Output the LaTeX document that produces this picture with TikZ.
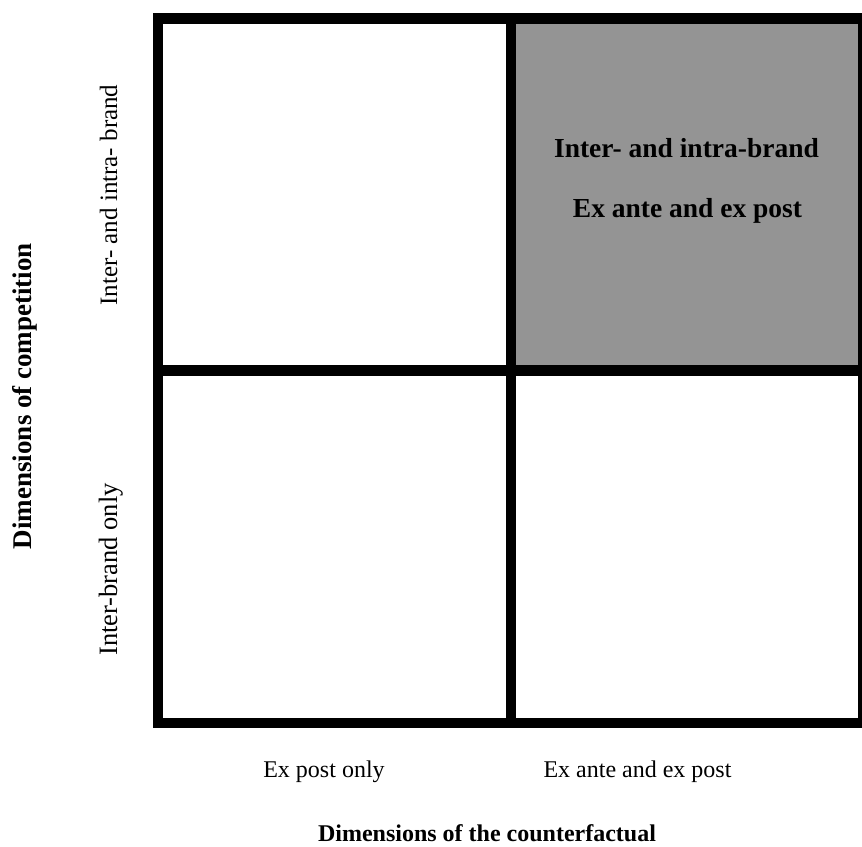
\documentclass[tikz,border=0pt]{standalone}
\usepackage{fontspec}
\setmainfont{Liberation Serif}
\definecolor{cellgray}{RGB}{148,148,148}

\begin{document}
\begin{tikzpicture}[x=1pt,y=1pt,yscale=-1,
  gridline/.style={line width=10.7pt},
  lbl/.style={anchor=base,inner sep=0pt,font=\fontsize{24}{28}\selectfont},
  boldlbl/.style={lbl,font=\fontsize{24}{28}\selectfont\bfseries},
  celllbl/.style={lbl,font=\fontsize{27.5}{32}\selectfont\bfseries}]
\useasboundingbox (0,0) rectangle (862,846);

% shaded cell, top right
\fill [cellgray] (511,18.5) rectangle (863.5,370.5);

% the grid
\draw [gridline] (158,18.5) rectangle (863.5,723);
\draw [gridline] (511,18.5) -- (511,723);
\draw [gridline] (158,370.5) -- (863.5,370.5);

% text in the shaded cell
\node [celllbl] (cellcomp) at (686.5,157.5) {Inter- and intra-brand};
\node [celllbl] (cellcf) at (687.5,217) {Ex ante and ex post};

% vertical axis
\node [lbl,rotate=90,font=\fontsize{25}{30}\selectfont] (comptop) at (117,195) {Inter- and intra- brand};
\node [lbl,rotate=90,font=\fontsize{26.5}{30}\selectfont] (compbot) at (117,569.5) {Inter-brand only};
\node [boldlbl,rotate=90,font=\fontsize{27}{32}\selectfont\bfseries] (comptitle) at (31,396) {Dimensions of competition};

% horizontal axis
\node [lbl] (cfleft) at (324,777) {Ex post only};
\node [lbl] (cfright) at (637.5,777) {Ex ante and ex post};
\node [boldlbl] (cftitle) at (487,841) {Dimensions of the counterfactual};

\end{tikzpicture}
\end{document}
